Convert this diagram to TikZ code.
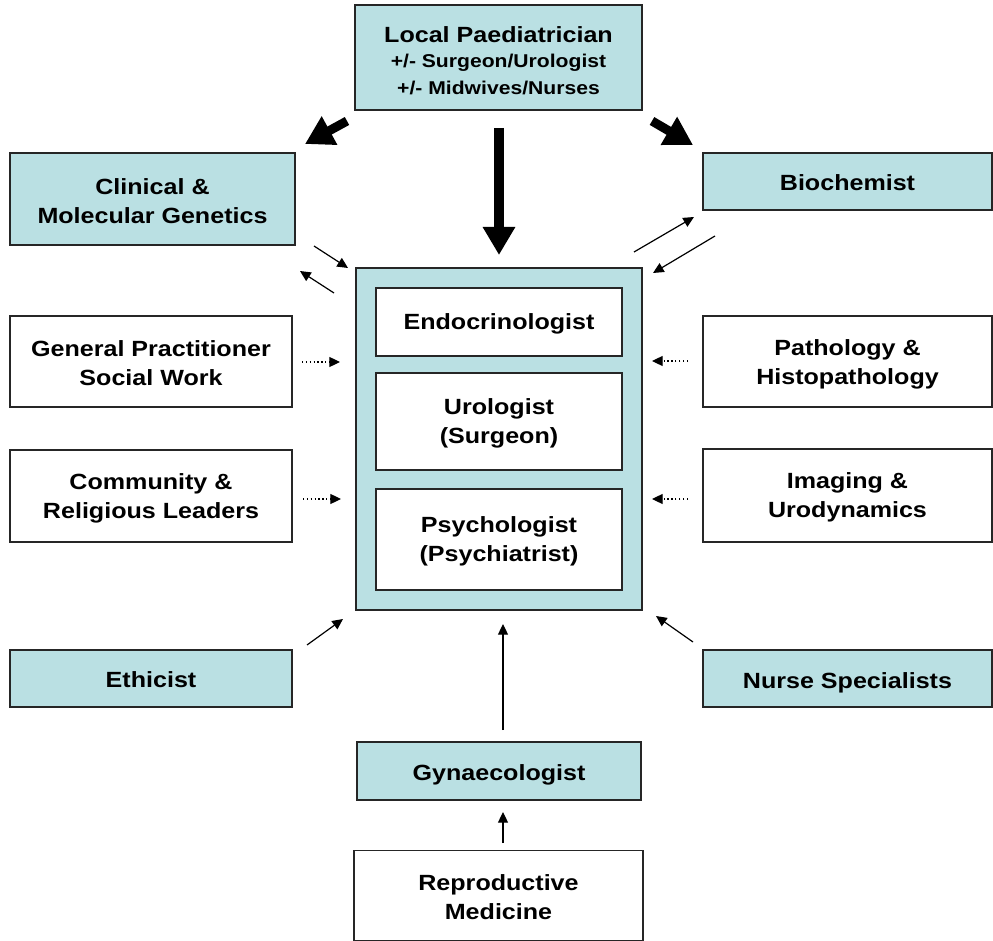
\documentclass[tikz,border=0pt]{standalone}
\usepackage{fontspec}
\setmainfont{Liberation Sans}[FakeStretch=1.14]
\usetikzlibrary{arrows.meta}
\definecolor{boxblue}{RGB}{186,224,227}
\newcommand{\lbl}[2][1.6pt]{\raisebox{-#1}[\height][\depth]{\begin{tabular}{@{}c@{}}#2\end{tabular}}}
\tikzset{
  box/.style={draw=black!85, line width=1.1pt, inner sep=0pt,
    font=\fontsize{16.5}{21.75}\selectfont\bfseries},
  bluebox/.style={box, fill=boxblue},
  whitebox/.style={box, fill=white},
  bigarrow/.style={line width=6.8pt, -{Triangle[length=21pt,width=23pt]}},
  thinarrow/.style={line width=0.9pt, -{Triangle[length=8pt,width=7.5pt]}},
  dotarrow/.style={line width=0.9pt, dotted, -{Triangle[length=8pt,width=7.5pt]}},
}
\begin{document}
\begin{tikzpicture}[x=0.75pt,y=-0.75pt]
\useasboundingbox (0,0) rectangle (993,941);
% nodes
\node[bluebox, minimum width=215.25pt, minimum height=78.75pt] (lp) at (498.5,57.5)
  {\lbl[3.6pt]{Local Paediatrician\\[-2.5pt]{\fontsize{13.9}{19.5}\selectfont +/- Surgeon/Urologist}\\[-2pt]{\fontsize{13.9}{19.5}\selectfont +/- Midwives/Nurses}}};
\node[bluebox, minimum width=213.75pt, minimum height=69pt] (cmg) at (152.5,199) {\lbl[2.8pt]{Clinical \&\\Molecular Genetics}};
\node[bluebox, minimum width=216.75pt, minimum height=42.75pt] (bio) at (847.5,181.5) {\lbl[2.2pt]{Biochemist}};
\node[bluebox, minimum width=214.5pt, minimum height=256.5pt] (mdt) at (499,439) {};
\node[whitebox, minimum width=184.5pt, minimum height=51pt] (endo) at (499,322) {\lbl[1pt]{Endocrinologist}};
\node[whitebox, minimum width=184.5pt, minimum height=72.75pt] (uro) at (499,421.5) {\lbl{Urologist\\(Surgeon)}};
\node[whitebox, minimum width=184.5pt, minimum height=75.75pt] (psy) at (499,539.5) {\lbl{Psychologist\\(Psychiatrist)}};
\node[whitebox, minimum width=211.5pt, minimum height=68.25pt] (gp) at (151,361.5) {\lbl[2.5pt]{General Practitioner\\Social Work}};
\node[whitebox, minimum width=211.5pt, minimum height=69pt] (com) at (151,496) {\lbl[2pt]{Community \&\\Religious Leaders}};
\node[whitebox, minimum width=216.75pt, minimum height=68.25pt] (path) at (847.5,361.5) {\lbl[2pt]{Pathology \&\\Histopathology}};
\node[whitebox, minimum width=216.75pt, minimum height=69.75pt] (img) at (847.5,495.5) {\lbl{Imaging \&\\Urodynamics}};
\node[bluebox, minimum width=211.5pt, minimum height=42.75pt] (eth) at (151,678.5) {\lbl[2.4pt]{Ethicist}};
\node[bluebox, minimum width=216.75pt, minimum height=42.75pt] (nurse) at (847.5,678.5) {\lbl[2.8pt]{Nurse Specialists}};
\node[bluebox, minimum width=213pt, minimum height=43.5pt] (gyn) at (499,771) {\lbl[2.8pt]{Gynaecologist}};
\node[whitebox, minimum width=216.75pt, minimum height=67.5pt] (rep) at (498.5,895.5) {\lbl[2.5pt]{Reproductive\\Medicine}};
% connector end points
\coordinate (a1s) at (347,121); \coordinate (a1e) at (305,144);
\coordinate (a2s) at (652,121); \coordinate (a2e) at (693,145);
\coordinate (a3s) at (499,128); \coordinate (a3e) at (499,255);
\coordinate (c1s) at (314,246); \coordinate (c1e) at (348,268);
\coordinate (c2s) at (334,293); \coordinate (c2e) at (300,271);
\coordinate (b1s) at (634,252); \coordinate (b1e) at (694,217);
\coordinate (b2s) at (715,236); \coordinate (b2e) at (653,273);
\coordinate (d1s) at (302,362); \coordinate (d1e) at (340,362);
\coordinate (d2s) at (303,499); \coordinate (d2e) at (341,499);
\coordinate (d3s) at (688,361); \coordinate (d3e) at (652,361);
\coordinate (d4s) at (688,499); \coordinate (d4e) at (652,499);
\coordinate (e1s) at (307,645); \coordinate (e1e) at (343,619);
\coordinate (n1s) at (693,642); \coordinate (n1e) at (656,616);
\coordinate (g1s) at (503,730); \coordinate (g1e) at (503,624);
\coordinate (r1s) at (503,843); \coordinate (r1e) at (503,812);
% connectors
\draw[bigarrow] (a1s) -- (a1e);
\draw[bigarrow] (a2s) -- (a2e);
\draw[bigarrow] (a3s) -- (a3e);
\draw[thinarrow] (c1s) -- (c1e);
\draw[thinarrow] (c2s) -- (c2e);
\draw[thinarrow] (b1s) -- (b1e);
\draw[thinarrow] (b2s) -- (b2e);
\draw[dotarrow] (d1s) -- (d1e);
\draw[dotarrow] (d2s) -- (d2e);
\draw[dotarrow] (d3s) -- (d3e);
\draw[dotarrow] (d4s) -- (d4e);
\draw[thinarrow] (e1s) -- (e1e);
\draw[thinarrow] (n1s) -- (n1e);
\draw[thinarrow] (g1s) -- (g1e);
\draw[thinarrow] (r1s) -- (r1e);
\end{tikzpicture}
\end{document}
